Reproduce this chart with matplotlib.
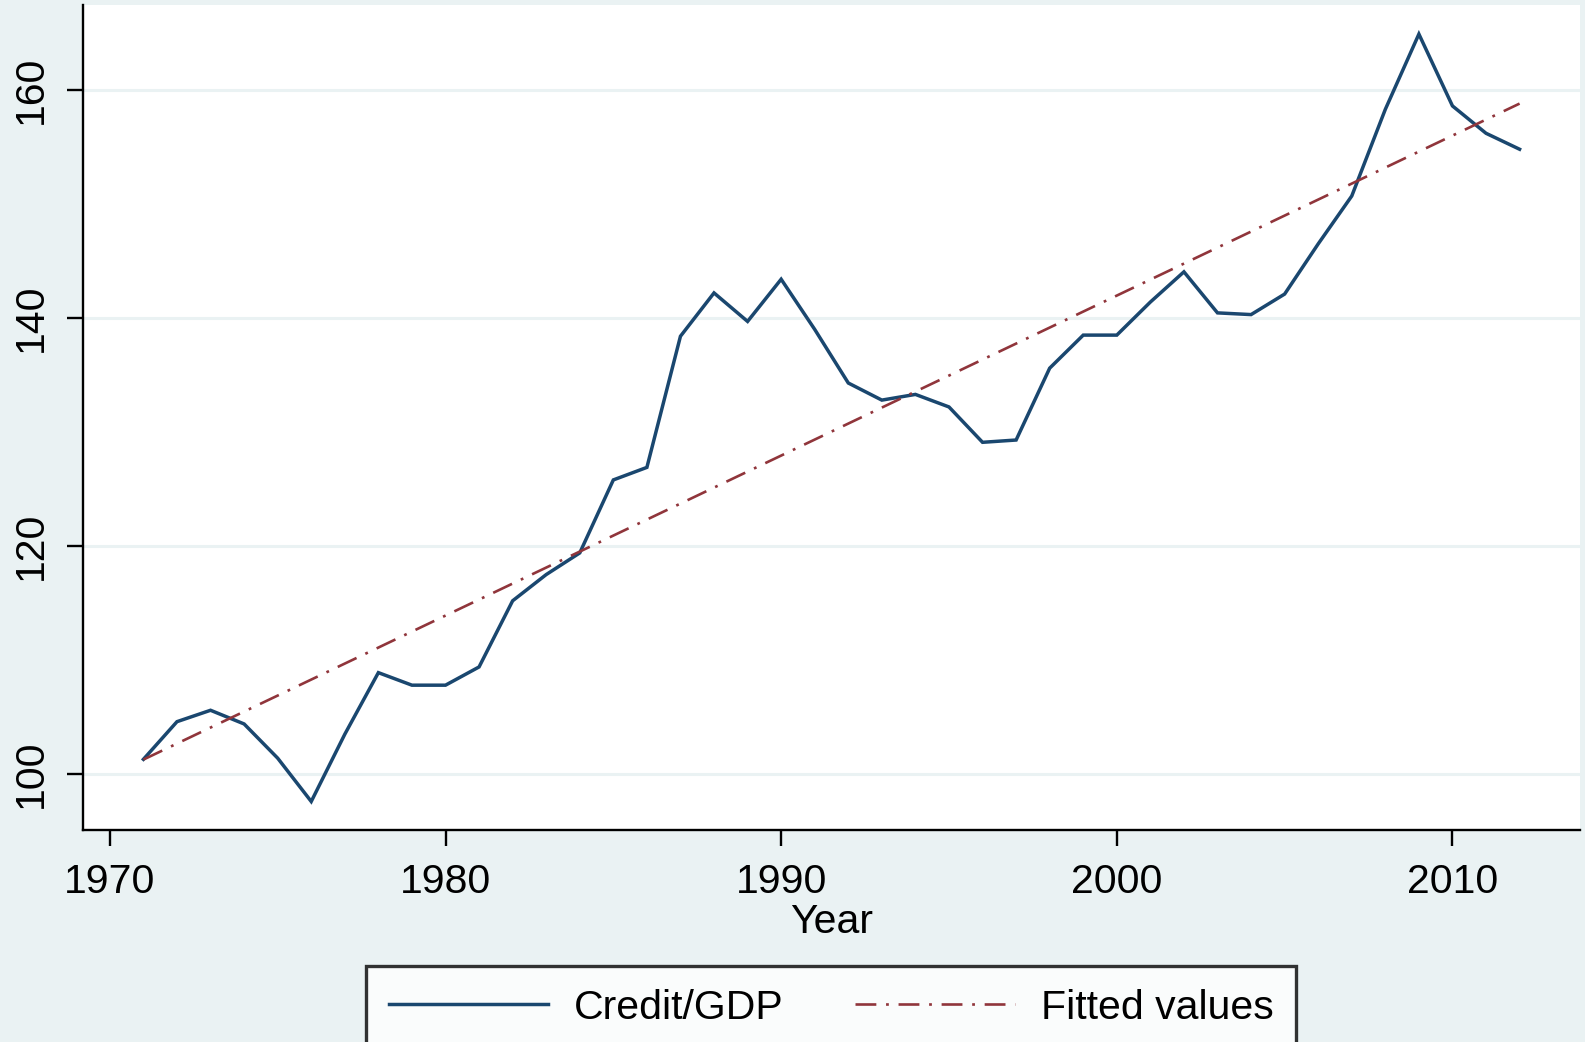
import numpy as np
import matplotlib
matplotlib.use("Agg")
import matplotlib.pyplot as plt

plt.rcParams['font.family'] = ['Liberation Sans', 'DejaVu Sans']
plt.rcParams['lines.scale_dashes'] = False

years = list(range(1971, 2013))
credit_gdp = [101.3, 104.6, 105.6, 104.4, 101.4, 97.6, 103.5, 108.9, 107.8, 107.8,
              109.4, 115.2, 117.5, 119.4, 125.8, 126.9, 138.4, 142.2, 139.7, 143.4,
              139.0, 134.3, 132.8, 133.3, 132.2, 129.1, 129.3, 135.6, 138.5, 138.5,
              141.4, 144.05, 140.45, 140.3, 142.1, 146.5, 150.7, 158.3, 164.9, 158.6,
              156.2, 154.8]
x_ticks = [1970, 1980, 1990, 2000, 2010]
y_ticks = [100, 120, 140, 160]

BG = '#eaf2f3'
BLUE = '#1a476f'
RED = '#90353b'

x = np.array(years, dtype=float)
y = np.array(credit_gdp)
slope, intercept = np.polyfit(x, y, 1)
fitted = intercept + slope * x

W, H = 1585, 1042
FS = 29.5
fig = plt.figure(figsize=(W / 100, H / 100), dpi=100, facecolor=BG)
ax = fig.add_axes([83 / W, 1 - 830 / H, (1580 - 83) / W, (830 - 5) / H])
ax.set_facecolor('white')

ax.set_xlim(1969.2, 2013.8)
ax.set_ylim(95.1, 167.45)

ax.grid(axis='y', color=BG, linewidth=2.2)
ax.set_axisbelow(True)

l1, = ax.plot(x, y, color=BLUE, linewidth=2.5, label='Credit/GDP', solid_joinstyle='miter')
l2, = ax.plot(x, fitted, color=RED, linewidth=1.9, label='Fitted values')
l2.set_dashes((15, 7, 2, 7))

for s in ['top', 'right']:
    ax.spines[s].set_visible(False)
for s in ['left', 'bottom']:
    ax.spines[s].set_linewidth(1.7)
    ax.spines[s].set_color('black')

ax.set_xticks(x_ticks)
ax.set_xticklabels([str(t) for t in x_ticks])
ax.set_yticks(y_ticks)
ax.set_yticklabels([str(t) for t in y_ticks], rotation=90, va='center')
ax.tick_params(axis='both', direction='out', length=11.5, width=1.7, labelsize=FS, colors='black')
ax.tick_params(axis='x', pad=12)
ax.tick_params(axis='y', pad=12)

ax.set_xlabel('Year', fontsize=FS, labelpad=2)

leg = fig.legend(handles=[l1, l2], loc='upper center', bbox_to_anchor=(831 / W, 1 - 966 / H),
                 ncol=2, fontsize=FS, frameon=True, fancybox=False, edgecolor='black',
                 handlelength=3.9, handletextpad=0.62, columnspacing=1.75,
                 borderpad=0.55, borderaxespad=0)
leg.get_frame().set_linewidth(2.4)
leg.get_frame().set_facecolor('white')

fig.savefig('out.png', dpi=100, facecolor=BG)
